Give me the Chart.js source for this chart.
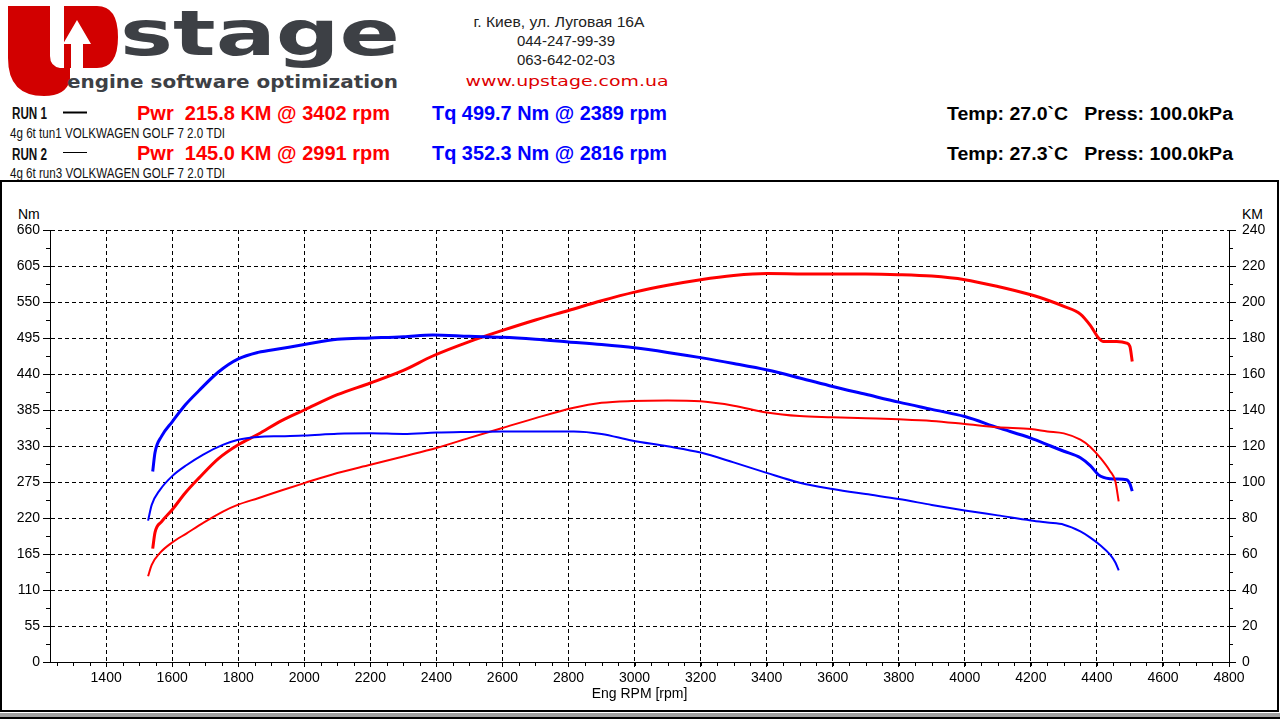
<!DOCTYPE html>
<html>
<head>
<meta charset="utf-8">
<script src="https://cdn.jsdelivr.net/npm/chart.js@4.4.1/dist/chart.umd.min.js"></script>
<style>
  html, body { margin: 0; padding: 0; background: #fff; }
  #page { position: relative; width: 1280px; height: 720px; overflow: hidden; }
  #deco, #dyno { position: absolute; left: 0; top: 0; }
  .ls { font-family: "Liberation Sans", Arial, sans-serif; white-space: pre; }
  .dv { font-family: "DejaVu Sans", sans-serif; white-space: pre; }
</style>
</head>
<body>
<div id="page">
<svg id="deco" width="1280" height="720" xml:space="preserve">
  <!-- logo -->
  <path fill="#d20000" d="M8 6 H50 V56 Q50 66 60 68 L64 68 V6 H97 Q118 6 118 37 Q118 68 97 68 H70 V80 Q66 96 44 96 Q8 96 8 58 Z"/>
  <path fill="#fff" d="M77 20 L91 44 H83 V68 H71 V44 H63 Z"/>
  <text class="dv" x="120" y="55" font-weight="bold" font-size="62" fill="#3d4045" textLength="280" lengthAdjust="spacingAndGlyphs">stage</text>
  <text class="dv" x="67" y="88" font-weight="bold" font-size="17" fill="#3d4045" textLength="331" lengthAdjust="spacingAndGlyphs">engine software optimization</text>

  <!-- address block -->
  <text class="ls" x="559" y="27" text-anchor="middle" font-size="14" fill="#222" textLength="171" lengthAdjust="spacingAndGlyphs">г. Киев, ул. Луговая 16А</text>
  <text class="ls" x="566" y="46" text-anchor="middle" font-size="14" fill="#222" textLength="98" lengthAdjust="spacingAndGlyphs">044-247-99-39</text>
  <text class="ls" x="566" y="65" text-anchor="middle" font-size="14" fill="#222" textLength="98" lengthAdjust="spacingAndGlyphs">063-642-02-03</text>
  <text class="dv" x="567" y="86" text-anchor="middle" font-size="14" fill="#dd0000" textLength="203" lengthAdjust="spacingAndGlyphs">www.upstage.com.ua</text>

  <!-- run info -->
  <text class="ls" x="12" y="119" font-weight="bold" font-size="16" fill="#111" textLength="35" lengthAdjust="spacingAndGlyphs">RUN 1</text>
  <line x1="63" y1="112.5" x2="87" y2="112.5" stroke="#000" stroke-width="2"/>
  <text class="ls" x="137" y="119.5" font-weight="bold" font-size="19.5" fill="#ff0000" textLength="253" lengthAdjust="spacingAndGlyphs">Pwr  215.8 KM @ 3402 rpm</text>
  <text class="ls" x="432" y="119.5" font-weight="bold" font-size="19.5" fill="#0000ff" textLength="235" lengthAdjust="spacingAndGlyphs">Tq 499.7 Nm @ 2389 rpm</text>
  <text class="ls" x="10" y="137.5" font-size="15" fill="#111" textLength="215" lengthAdjust="spacingAndGlyphs">4g 6t tun1 VOLKWAGEN GOLF 7 2.0 TDI</text>

  <text class="ls" x="12" y="160" font-weight="bold" font-size="16" fill="#111" textLength="35" lengthAdjust="spacingAndGlyphs">RUN 2</text>
  <line x1="63" y1="152.5" x2="87" y2="152.5" stroke="#000" stroke-width="1"/>
  <text class="ls" x="137" y="160" font-weight="bold" font-size="19.5" fill="#ff0000" textLength="253" lengthAdjust="spacingAndGlyphs">Pwr  145.0 KM @ 2991 rpm</text>
  <text class="ls" x="432" y="160" font-weight="bold" font-size="19.5" fill="#0000ff" textLength="235" lengthAdjust="spacingAndGlyphs">Tq 352.3 Nm @ 2816 rpm</text>
  <text class="ls" x="10" y="177.5" font-size="15" fill="#111" textLength="215" lengthAdjust="spacingAndGlyphs">4g 6t run3 VOLKWAGEN GOLF 7 2.0 TDI</text>

  <text class="ls" x="947" y="120" font-weight="bold" font-size="18" fill="#000" textLength="286" lengthAdjust="spacingAndGlyphs">Temp: 27.0`C   Press: 100.0kPa</text>
  <text class="ls" x="947" y="160" font-weight="bold" font-size="18" fill="#000" textLength="286" lengthAdjust="spacingAndGlyphs">Temp: 27.3`C   Press: 100.0kPa</text>

  <!-- frame -->
  <rect x="1" y="181" width="1277" height="530" fill="none" stroke="#000" stroke-width="2"/>
  <rect x="0" y="713" width="1280" height="4" fill="#a0a0a0"/>
  <rect x="0" y="717" width="1280" height="2" fill="#000"/>

  <!-- axis units -->
  <text class="ls" x="18" y="219" font-size="14" fill="#000">Nm</text>
  <text class="ls" x="1242" y="219" font-size="14" fill="#000">KM</text>
</svg>
<canvas id="dyno" width="1280" height="720"></canvas>
</div>
<script>
// axis ticks
const rpmTicks = [1400, 1600, 1800, 2000, 2200, 2400, 2600, 2800, 3000, 3200, 3400, 3600, 3800, 4000, 4200, 4400, 4600, 4800];
const nmTicks = [0, 55, 110, 165, 220, 275, 330, 385, 440, 495, 550, 605, 660];
const kmTicks = [0, 20, 40, 60, 80, 100, 120, 140, 160, 180, 200, 220, 240];

// RUN 1 (tun1)
const run1Rpm = [1541, 1548, 1568, 1600, 1640, 1680, 1740, 1800, 1860, 1930, 2000, 2100, 2200, 2300, 2389, 2500, 2600, 2700, 2800, 2900, 3000, 3100, 3200, 3300, 3402, 3500, 3600, 3700, 3800, 3900, 4000, 4100, 4200, 4260, 4300, 4350, 4380, 4405, 4420, 4440, 4460, 4490, 4500, 4507];
const run1Torque = [291, 320, 345, 367, 393, 414, 443, 463, 473, 479, 485, 493, 495, 497, 499.7, 497.5, 496, 493, 489, 485, 480, 473, 465, 456, 446, 434, 421, 409, 397, 386, 375, 358, 342, 330, 322, 312, 300, 286, 282, 280, 279.5, 278.5, 272, 261];
const run1Power = [63, 72, 78, 84.6, 94, 102, 113, 120.7, 126.5, 134, 140, 148.5, 155, 162, 170, 178, 184.2, 190, 195.3, 200.7, 205.5, 209.3, 212.4, 214.7, 215.8, 215.6, 215.5, 215.5, 215.2, 214.4, 212.4, 208.6, 204, 200.4, 197.6, 193.3, 187, 180, 178, 178, 178.1, 177.2, 175.3, 167];

// RUN 2 (run3)
const run2Rpm = [1527, 1538, 1563, 1600, 1644, 1694, 1755, 1800, 1860, 1930, 2000, 2100, 2200, 2300, 2400, 2500, 2600, 2700, 2816, 2900, 2991, 3100, 3200, 3300, 3400, 3500, 3600, 3700, 3800, 3900, 4000, 4100, 4200, 4250, 4300, 4350, 4380, 4411, 4440, 4456, 4466];
const run2Torque = [216, 240, 263, 284, 301, 317, 332, 339.6, 343.8, 345, 346, 348.8, 349.5, 348.5, 350.5, 351.5, 352.3, 352.3, 352.3, 348.5, 338.5, 329.5, 320, 305, 289, 274, 264.3, 256.5, 249, 240, 231.6, 224, 216.3, 213, 209.8, 199.5, 190, 178, 164, 152, 140];
const run2Power = [47.6, 54, 60.6, 66.4, 71.5, 77.3, 83.7, 87.4, 91, 95.3, 99.4, 105, 109.6, 114.2, 118.9, 124.5, 130, 135.5, 141.3, 144, 145, 145.3, 144.8, 142.4, 138.6, 136.6, 136, 135.4, 134.8, 133.9, 132.2, 130.4, 129.4, 128.1, 127, 123.5, 119.5, 113.3, 106, 100.3, 89.2];

const pts = (xs, ys) => xs.map((x, i) => ({ x, y: ys[i] }));

const tickFont = { family: '"Liberation Sans", Arial, sans-serif', size: 14 };

// short minor tick marks between the labelled ones
const minorTicks = {
    id: 'minorTicks',
    afterDraw(chart) {
        const { ctx, scales: { x, y, y1 } } = chart;
        ctx.save();
        ctx.strokeStyle = '#000';
        ctx.lineWidth = 1;
        ctx.beginPath();
        for (let v = 1250; v <= x.max; v += 50) {
            const px = Math.round(x.getPixelForValue(v)) + 0.5;
            ctx.moveTo(px, y.bottom);
            ctx.lineTo(px, y.bottom + 4);
        }
        for (let v = 27.5; v < y.max; v += 55) {
            const py = Math.round(y.getPixelForValue(v)) + 0.5;
            ctx.moveTo(x.left, py);
            ctx.lineTo(x.left - 4, py);
        }
        for (let v = 10; v < y1.max; v += 20) {
            const py = Math.round(y1.getPixelForValue(v)) + 0.5;
            ctx.moveTo(x.right, py);
            ctx.lineTo(x.right + 4, py);
        }
        ctx.stroke();
        ctx.restore();
    }
};

new Chart(document.getElementById('dyno').getContext('2d'), {
    type: 'line',
    data: {
        datasets: [
            { label: 'Run 2 Tq', data: pts(run2Rpm, run2Torque), yAxisID: 'y', borderColor: '#0000ff', borderWidth: 2 },
            { label: 'Run 2 Pwr', data: pts(run2Rpm, run2Power), yAxisID: 'y1', borderColor: '#ff0000', borderWidth: 2 },
            { label: 'Run 1 Tq', data: pts(run1Rpm, run1Torque), yAxisID: 'y', borderColor: '#0000ff', borderWidth: 3 },
            { label: 'Run 1 Pwr', data: pts(run1Rpm, run1Power), yAxisID: 'y1', borderColor: '#ff0000', borderWidth: 3 }
        ]
    },
    options: {
        responsive: false,
        animation: false,
        layout: { padding: { top: 230, left: 0, right: 0, bottom: 0 } },
        elements: {
            point: { radius: 0 },
            line: { cubicInterpolationMode: 'monotone', fill: false }
        },
        plugins: { legend: { display: false }, tooltip: { enabled: false } },
        scales: {
            x: {
                type: 'linear',
                min: 1230,
                max: 4800,
                afterBuildTicks: s => { s.ticks = rpmTicks.map(v => ({ value: v })); },
                afterFit: s => { s.height = 58; },
                ticks: { color: '#000', font: tickFont, padding: 3, maxRotation: 0, autoSkip: false, callback: v => String(v) },
                grid: { color: '#000', lineWidth: 1, tickLength: 5, tickBorderDash: [] },
                border: { display: true, color: '#000', width: 1, dash: [4, 3] },
                title: { display: true, text: 'Eng RPM [rpm]', color: '#000', font: tickFont, padding: { top: 0, bottom: 17 } }
            },
            y: {
                position: 'left',
                min: 0,
                max: 660,
                afterBuildTicks: s => { s.ticks = nmTicks.map(v => ({ value: v })); },
                afterFit: s => { s.width = 50; },
                ticks: { color: '#000', font: tickFont, padding: 3, autoSkip: false, callback: v => String(v) },
                grid: { color: '#000', lineWidth: 1, tickLength: 7, tickBorderDash: [] },
                border: { display: true, color: '#000', width: 1, dash: [4, 3] }
            },
            y1: {
                position: 'right',
                min: 0,
                max: 240,
                afterBuildTicks: s => { s.ticks = kmTicks.map(v => ({ value: v })); },
                afterFit: s => { s.width = 51; },
                ticks: { color: '#000', font: tickFont, padding: 6, autoSkip: false, callback: v => String(v) },
                grid: { drawOnChartArea: false, color: '#000', tickLength: 7, tickBorderDash: [] },
                border: { display: true, color: '#000', width: 1 }
            }
        }
    },
    plugins: [minorTicks]
});
</script>
</body>
</html>
